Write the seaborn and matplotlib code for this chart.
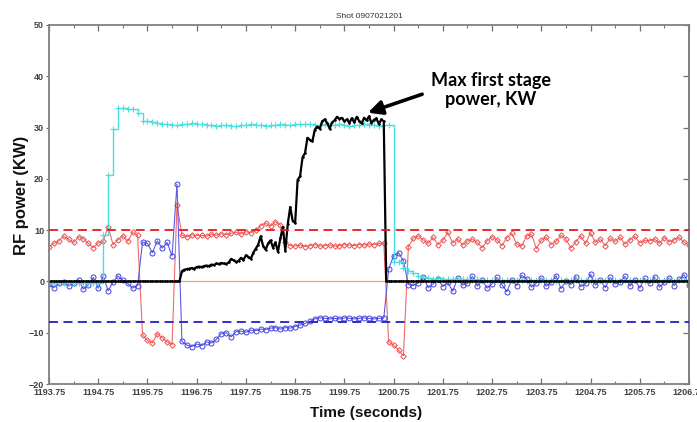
import numpy as np
import pandas as pd
import seaborn as sns
import matplotlib.pyplot as plt
from matplotlib.ticker import FixedLocator

sns.set_theme(style="white")
plt.rcParams["font.family"] = ["Liberation Sans", "DejaVu Sans"]

# sample grid of the probe signals (seconds)
t_start = 1193.75
dt_slow = 0.1    # red / blue / cyan sampling
dt_fast = 0.05   # black (first stage power) sampling

# red diamonds
red_power = [
    6.8, 7.4, 7.9, 8.8, 8.2, 7.6, 8.7, 8.3, 7.4, 6.6,
    7.5, 7.8, 10.7, 7.2, 8.1, 8.9, 7.8, 9.6, 9.0, -10.4,
    -11.5, -12.0, -10.2, -11.0, -11.8, -12.3, 15.0, 9.0, 8.7, 9.1,
    8.9, 9.0, 8.8, 9.2, 9.0, 9.3, 9.1, 9.4, 9.6, 9.2,
    9.7, 9.5, 10.0, 10.9, 11.4, 10.8, 11.6, 11.0, 7.6, 7.0,
    6.9, 7.1, 6.8, 7.0, 7.2, 6.9, 7.0, 7.1, 6.9, 7.0,
    7.2, 7.1, 7.0, 7.2, 7.1, 7.3, 7.2, 7.4, 7.5, -11.8,
    -12.4, -13.4, -14.5, 6.8, 8.4, 8.9, 8.1, 7.4, 8.6, 7.2,
    8.0, 9.6, 7.5, 8.3, 7.1, 7.9, 8.2, 7.6, 6.6, 7.9,
    8.7, 8.1, 7.0, 8.5, 9.4, 7.3, 6.9, 8.8, 9.2, 6.4,
    8.0, 8.6, 7.2, 7.8, 9.0, 8.3, 6.5, 7.7, 8.9, 7.4,
    9.5, 7.6, 8.2, 7.0, 8.4, 7.8, 8.6, 7.3, 8.1, 8.8,
    7.5, 8.0, 7.9, 8.3, 7.4, 8.5, 7.7, 8.1, 8.6, 7.6,
    7.2,
]

# blue circles
blue_power = [
    -0.5, -1.2, -0.4, -0.2, -0.9, -0.3, 0.3, -1.5, -0.6, 0.8,
    -1.3, 1.0, -1.8, -0.2, 1.1, 0.2, -0.4, -1.3, -0.8, 7.7,
    7.4, 5.6, 7.9, 6.5, 7.6, 5.0, 19.0, -11.7, -12.4, -12.7,
    -12.2, -12.5, -11.8, -12.0, -11.3, -10.2, -10.0, -10.8, -9.8, -9.7,
    -9.9, -9.5, -9.6, -9.3, -9.4, -9.1, -9.0, -9.3, -9.0, -9.1,
    -8.8, -8.5, -8.2, -7.8, -7.3, -7.1, -7.2, -7.3, -7.2, -7.3,
    -7.1, -7.2, -7.3, -7.2, -7.1, -7.2, -7.3, -7.2, -7.2, 2.4,
    5.0, 5.6, 4.0, -0.6, -0.8, -0.3, 0.9, -1.2, -0.5, 0.4,
    -1.0, -0.2, -1.9, 0.6, -0.7, -0.4, 1.0, -0.9, 0.2, -1.3,
    -0.5, 0.8, -0.6, -2.0, 0.3, -0.8, 1.2, 0.5, -1.1, -0.3,
    0.7, -0.9, -0.2, 1.1, -1.4, 0.0, -0.6, 0.9, -1.0, -0.4,
    1.4, -0.7, 0.2, -1.2, 0.8, -0.5, -0.1, 1.0, -0.9, 0.3,
    -1.3, 0.6, -0.4, 0.9, -1.1, -0.2, 0.7, -0.8, 0.4, 1.3,
    -0.6,
]

# cyan crosses (stepped)
cyan_power = [
    -0.4, -0.4, -0.4, -0.4, -0.4, -0.4, -0.4, -0.4, -0.4, -0.4,
    -0.4, 9.0, 20.8, 29.7, 33.8, 33.8, 33.7, 33.6, 32.8, 31.3,
    31.2, 31.0, 30.9, 30.7, 30.6, 30.5, 30.5, 30.6, 30.7, 30.8,
    30.7, 30.6, 30.5, 30.5, 30.4, 30.5, 30.5, 30.4, 30.4, 30.5,
    30.5, 30.6, 30.5, 30.5, 30.4, 30.5, 30.5, 30.6, 30.5, 30.5,
    30.6, 30.7, 30.6, 30.6, 30.5, 30.5, 30.6, 30.5, 30.5, 30.6,
    30.5, 30.4, 30.5, 30.5, 30.6, 30.5, 30.5, 30.4, 30.5, 30.5,
    3.8, 3.7, 2.7, 2.1, 1.6, 1.1, 0.8, 0.6, 0.5, 0.6,
    0.5, 0.5, 0.4, 0.5, 0.4, 0.4, 0.3, 0.4, 0.3, 0.3,
    0.2, 0.3, 0.2, 0.2, 0.3, 0.2, 0.2, 0.1, 0.2, 0.2,
    0.3, 0.2, 0.2, 0.1, 0.2, 0.2, 0.3, 0.2, 0.2, 0.2,
    0.1, 0.2, 0.2, 0.3, 0.2, 0.2, 0.1, 0.2, 0.2, 0.2,
    0.2, 0.1, 0.2, 0.2, 0.3, 0.2, 0.2, 0.1, 0.2, 0.2,
    0.2,
]

# black: max first stage power (flat zero before and after the pulse)
black_pulse = [
    2.0, 2.3, 2.4, 2.5, 2.6, 2.5, 2.8, 2.9, 2.8, 3.0,
    3.1, 3.0, 3.3, 3.2, 3.5, 3.4, 3.6, 3.5, 3.4, 3.7,
    4.4, 4.1, 3.8, 4.0, 4.6, 4.2, 5.1, 4.8, 4.4, 5.6,
    6.4, 7.2, 8.8, 6.9, 6.2, 7.4, 8.0, 6.6, 7.6, 5.8,
    8.4, 10.6, 6.0, 11.2, 14.5, 11.8, 11.4, 19.8, 20.5, 24.2,
    25.0, 28.0, 27.6, 27.3, 29.6, 30.2, 29.8, 31.2, 31.6, 30.9,
    29.8, 31.0, 31.4, 32.1, 31.7, 31.9, 31.2, 31.6, 30.9, 31.8,
    31.0, 32.1, 31.3, 30.8, 31.9, 31.4, 32.2, 30.9, 31.5, 31.8,
    30.7, 31.6, 31.2,
]
black_power = [0.0] * 54 + black_pulse + [0.0] * 124

red_limit = 10
blue_limit = -8

x_ticks = [1193.75, 1194.75, 1195.75, 1196.75, 1197.75, 1198.75, 1199.75,
           1200.75, 1201.75, 1202.75, 1203.75, 1204.75, 1205.75, 1206.75]
x_minor = [1194.25, 1195.25, 1196.25, 1197.25, 1198.25, 1199.25,
           1200.25, 1201.25, 1202.25, 1203.25, 1204.25, 1205.25, 1206.25]
y_ticks = [-20, -10, 0, 10, 20, 30, 40, 50]


def frame(values, dt):
    return pd.DataFrame({"time": t_start + dt * np.arange(len(values)),
                         "power": values})


red_df = frame(red_power, dt_slow)
blue_df = frame(blue_power, dt_slow)
cyan_df = frame(cyan_power, dt_slow)
black_df = frame(black_power, dt_fast)

fig, ax = plt.subplots(figsize=(6.97, 4.22), dpi=100)
fig.subplots_adjust(left=0.0703, right=0.9885, bottom=0.09, top=0.9408)

ax.axhline(0, color="#f2a55a", lw=0.9, zorder=1)

sns.lineplot(data=red_df, x="time", y="power", ax=ax, estimator=None, sort=False,
             color="#f06a6a", lw=0.8, marker="D", markersize=2.8,
             markerfacecolor="none", markeredgecolor="#e85050", markeredgewidth=0.7)
sns.lineplot(data=blue_df, x="time", y="power", ax=ax, estimator=None, sort=False,
             color="#5a5ae6", lw=0.8, marker="o", markersize=3.6,
             markerfacecolor="none", markeredgecolor="#4040dc", markeredgewidth=0.7)
sns.lineplot(data=cyan_df, x="time", y="power", ax=ax, estimator=None, sort=False,
             color="#45e0e0", lw=1.0, marker="+", markersize=4,
             markeredgecolor="#45e0e0", markeredgewidth=0.8, drawstyle="steps-post")
sns.lineplot(data=black_df, x="time", y="power", ax=ax, estimator=None, sort=False,
             color="black", lw=1.6, marker=".", markersize=2.5,
             markeredgecolor="black", markeredgewidth=0.5)

ax.axhline(red_limit, color="#e81818", lw=1.3, ls=(0, (5, 3)), zorder=5)
ax.axhline(blue_limit, color="#2020c8", lw=1.3, ls=(0, (5, 3)), zorder=5)

ax.set_xlim(x_ticks[0], x_ticks[-1])
ax.set_ylim(y_ticks[0], y_ticks[-1])
ax.xaxis.set_major_locator(FixedLocator(x_ticks))
ax.xaxis.set_minor_locator(FixedLocator(x_minor))
ax.set_xticklabels([f"{v:.2f}" for v in x_ticks])
ax.set_yticks(y_ticks)

ax.tick_params(axis="x", which="both", direction="in", top=True, bottom=True,
               labelsize=6.5, labelcolor="#404040", color="#707070", pad=3)
ax.tick_params(axis="x", which="major", length=4, width=0.9)
ax.tick_params(axis="x", which="minor", length=2.2, width=0.8)
ax.tick_params(axis="y", which="major", direction="out", left=True, right=False,
               length=2.5, width=0.9, labelsize=6.5, labelcolor="#404040",
               color="#707070", pad=1)
for lab in ax.get_xticklabels() + ax.get_yticklabels():
    lab.set_fontweight("bold")

right = ax.secondary_yaxis("right")
right.set_yticks(y_ticks)
right.tick_params(direction="in", length=4, width=0.9, color="#707070", labelright=False)
right.spines["right"].set_color("#808080")
right.spines["right"].set_linewidth(1.3)

for s in ax.spines.values():
    s.set_color("#808080")
    s.set_linewidth(1.3)

ax.set_title("Shot 0907021201", fontsize=6, color="#303030", pad=5)
ax.set_xlabel("Time (seconds)", fontsize=11, fontweight="bold", color="#111111")
ax.set_ylabel("RF power (KW)", fontsize=12, fontweight="bold", color="#111111")
ax.xaxis.set_label_coords(0.495, -0.081)
ax.xaxis.label.set_va("center")
ax.yaxis.set_label_coords(-0.031, 0.526)

ax.annotate("", xy=(1200.23, 32.9), xytext=(1201.33, 36.5),
            arrowprops=dict(arrowstyle="-|>,head_length=0.7,head_width=0.35",
                            lw=2.6, color="black", shrinkA=0, shrinkB=0))
ax.text(1202.73, 37.4, "Max first stage\npower, KW", ha="center", va="center",
        fontsize=13, fontweight="bold", family=["Lato", "DejaVu Sans"],
        linespacing=1.15, color="black")

fig.savefig("out.png", dpi=100)
